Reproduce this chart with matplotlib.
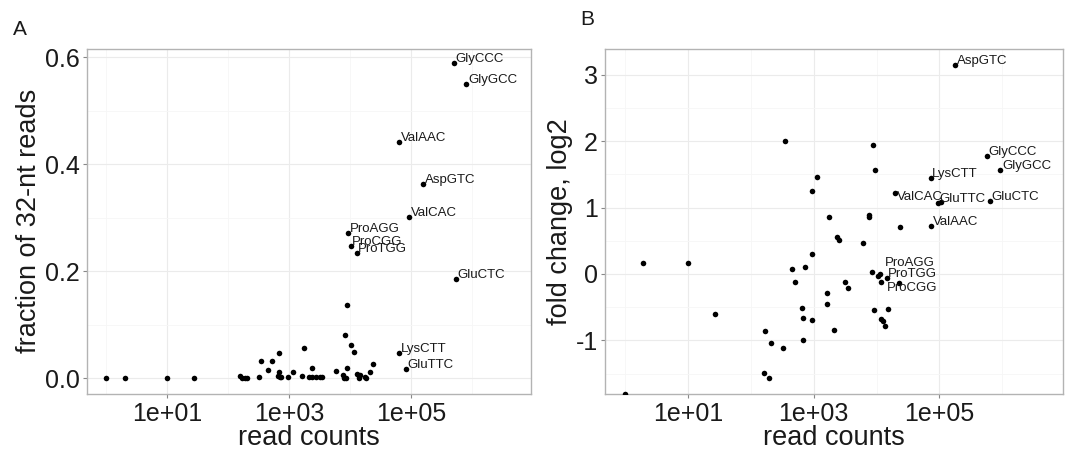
import matplotlib

matplotlib.use("Agg")
import matplotlib.pyplot as plt
import numpy as np
from matplotlib.ticker import NullFormatter

plt.rcParams["font.family"] = ["Liberation Sans", "DejaVu Sans"]

# ---- panel A: fraction of 32-nt reads vs read counts (log10 of counts) ----
a_log10 = [0.00, 0.30, 1.00, 1.43,
           2.20, 2.23, 2.27, 2.31, 2.51, 2.54, 2.66, 2.71, 2.84,
           2.83, 2.82, 2.86, 2.85, 2.98, 3.06, 3.21, 3.25,
           3.32, 3.38, 3.44, 3.50, 3.54, 3.37,
           3.77, 3.91, 3.88, 3.90, 3.94, 3.95, 3.95, 4.02, 4.07,
           4.12, 4.14, 4.17, 4.15, 4.26, 4.25, 4.32, 4.37]
a_frac = [0.000, 0.000, 0.000, 0.000,
          0.004, 0.000, 0.000, 0.000, 0.003, 0.032, 0.015, 0.033, 0.047,
          0.012, 0.004, 0.003, 0.002, 0.002, 0.011, 0.004, 0.057,
          0.002, 0.002, 0.003, 0.003, 0.003, 0.020,
          0.013, 0.081, 0.006, 0.000, 0.000, 0.019, 0.137, 0.062, 0.050,
          0.008, 0.000, 0.007, 0.004, 0.000, 0.003, 0.012, 0.026]

a_names = ["GlyCCC", "GlyGCC", "ValAAC", "AspGTC", "ValCAC", "ProAGG",
           "ProCGG", "ProTGG", "GluCTC", "LysCTT", "GluTTC"]
a_names_log10 = [5.70, 5.91, 4.81, 5.20, 4.97, 3.97, 4.01, 4.11, 5.74, 4.81, 4.92]
a_names_frac = [0.589, 0.550, 0.442, 0.364, 0.302, 0.272, 0.248, 0.234,
                0.185, 0.047, 0.017]

# ---- panel B: fold change (log2) vs read counts ----
b_log10 = [0.00, 0.28, 1.00, 1.43,
           2.22, 2.32, 2.51, 2.21, 2.29,
           2.54, 2.655, 2.71, 2.86, 2.81, 2.835, 2.83,
           2.98, 2.98, 2.97, 3.05, 3.24, 3.21, 3.21, 3.33,
           3.37, 3.41, 3.50, 3.55, 3.78, 3.875, 3.88,
           3.94, 3.98, 3.93, 4.02, 4.07,
           3.96, 4.19, 4.07, 4.10, 4.13,
           4.38, 5.02]
b_fold = [-1.81, 0.16, 0.16, -0.60,
          -0.86, -1.04, -1.12, -1.49, -1.565,
          2.00, 0.07, -0.125, 0.10, -0.52, -0.66, -0.995,
          0.305, -0.69, 1.25, 1.46, 0.855, -0.285, -0.455, -0.845,
          0.56, 0.505, -0.125, -0.215, 0.47, 0.885, 0.865,
          1.94, 1.56, 0.026, -0.026, -0.125,
          -0.54, -0.535, -0.68, -0.705, -0.785,
          0.71, 1.09]

b_names = ["AspGTC", "GlyCCC", "GlyGCC", "LysCTT", "ValCAC", "GluTTC",
           "GluCTC", "ValAAC", "ProAGG", "ProTGG", "ProCGG"]
b_names_log10 = [5.25, 5.75, 5.97, 4.86, 4.29, 4.98, 5.81, 4.87, 4.05, 4.16, 4.35]
b_names_fold = [3.15, 1.78, 1.56, 1.445, 1.215, 1.07, 1.10, 0.725,
                -0.005, -0.065, -0.14]

# label nudges in pixels where ggplot put the text away from its point
b_nudge = {"ValCAC": (2, -7), "ProAGG": (5, 8), "ProCGG": (-12, -8)}

W, H = 1070, 450
fig = plt.figure(figsize=(W / 100, H / 100), dpi=100)
axA = fig.add_axes([86.7 / W, (H - 393.5) / H, (531 - 86.7) / W, (393.5 - 48.5) / H])
axB = fig.add_axes([605 / W, (H - 393.5) / H, (1063.3 - 605) / W, (393.5 - 49) / H])


def style(ax):
    ax.set_xscale("log")
    ax.set_xticks([1e1, 1e3, 1e5])
    ax.set_xticklabels(["1e+01", "1e+03", "1e+05"])
    ax.set_xticks([1e0, 1e2, 1e4, 1e6], minor=True)
    ax.xaxis.set_minor_formatter(NullFormatter())
    ax.grid(True, which="major", color="#EBEBEB", linewidth=0.8)
    ax.grid(True, which="minor", color="#F6F6F6", linewidth=0.6)
    ax.set_axisbelow(True)
    for sp in ax.spines.values():
        sp.set_color("#B3B3B3")
        sp.set_linewidth(1.0)
    ax.tick_params(which="major", length=3, width=0.8, color="#888888",
                   labelsize=18, labelcolor="#1A1A1A", pad=2)
    ax.tick_params(axis="x", which="major", pad=3)
    ax.tick_params(which="minor", length=0)
    ax.set_xlabel("read counts", fontsize=19.5, color="#1A1A1A", va="top")
    # title sits tight under the tick labels, near the bottom edge
    ax.xaxis.set_label_coords(0.5, -0.092)


def draw(ax, xs, ys, names, nx, ny, nudge):
    ax.scatter(10 ** np.array(xs), ys, s=16, color="black", linewidths=0, zorder=3)
    ax.scatter(10 ** np.array(nx), ny, s=16, color="black", linewidths=0, zorder=3)
    for name, x, y in zip(names, nx, ny):
        dx, dy = nudge.get(name, (1.5, 1))
        ax.annotate(name, (10 ** x, y), xytext=(dx, dy), textcoords="offset pixels",
                    ha="left", va="baseline", fontsize=9.5, color="#1A1A1A", zorder=4)


style(axA)
draw(axA, a_log10, a_frac, a_names, a_names_log10, a_names_frac, {})
axA.set_xlim(10 ** -0.324, 10 ** 6.97)
axA.set_ylim(-0.0284, 0.6164)
axA.set_yticks([0.0, 0.2, 0.4, 0.6])
axA.set_yticklabels(["0.0", "0.2", "0.4", "0.6"])
axA.set_yticks([0.1, 0.3, 0.5], minor=True)
axA.set_ylabel("fraction of 32-nt reads", fontsize=19.5, labelpad=2, color="#1A1A1A")

style(axB)
draw(axB, b_log10, b_fold, b_names, b_names_log10, b_names_fold, b_nudge)
axB.set_xlim(10 ** -0.318, 10 ** 6.97)
axB.set_ylim(-1.80, 3.387)
axB.set_yticks([-1, 0, 1, 2, 3])
axB.set_yticklabels(["-1", "0", "1", "2", "3"])
axB.set_yticks([-1.5, -0.5, 0.5, 1.5, 2.5], minor=True)
axB.set_ylabel("fold change, log2", fontsize=19.5, labelpad=2, color="#1A1A1A")

fig.text(13 / W, 1 - 35 / H, "A", fontsize=15, color="#1A1A1A", va="baseline")
fig.text(580 / W, 1 - 25 / H, "B", fontsize=15, color="#1A1A1A", va="baseline")

fig.savefig("out.png", dpi=100)
